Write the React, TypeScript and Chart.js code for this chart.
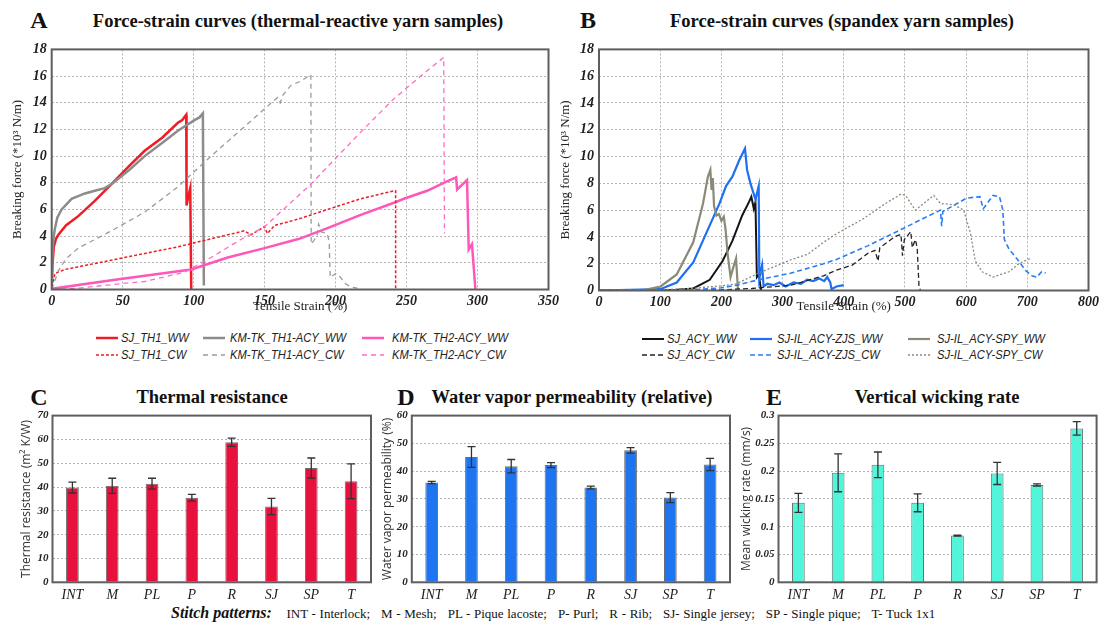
import React, { useEffect, useRef } from "react";
import { Chart, registerables } from "chart.js";
Chart.register(...registerables);

const SERIF = "'Liberation Serif', 'DejaVu Serif', serif";
const SANS = "'Open Sans', 'Liberation Sans', sans-serif";
const LEGENDFONT = "'Liberation Sans', Arial, sans-serif";

// ---------- Panel A: thermal-reactive yarn samples ----------
const seriesNamesA = ["SJ_TH1_WW", "KM-TK_TH1-ACY_WW", "KM-TK_TH2-ACY_WW", "SJ_TH1_CW", "KM-TK_TH1-ACY_CW", "KM-TK_TH2-ACY_CW"];

const sjTh1WwStrain = [0, 0.5, 1.5, 3, 4.7, 10, 18.7, 30, 42.1, 55, 65.5, 78, 88.9, 92, 94.8, 95, 96.5, 97.6, 98.3];
const sjTh1WwForce = [0, 1.8, 3.2, 3.8, 4.1, 4.8, 5.5, 6.6, 7.9, 9.3, 10.4, 11.4, 12.5, 12.7, 13.1, 6.3, 7.1, 7.6, 0];

const kmTh1WwStrain = [0, 0.5, 1.2, 2.3, 4, 7, 14, 23.4, 30.4, 37.4, 42.1, 55, 65.5, 78, 88.9, 100.6, 104.1, 106.5, 107.2];
const kmTh1WwForce = [0, 2.5, 3.8, 4.6, 5.4, 6.0, 6.8, 7.2, 7.4, 7.6, 7.9, 9.0, 10.0, 11.0, 11.9, 12.7, 12.9, 13.2, 0.3];

const kmTh2WwStrain = [0, 42.1, 98.3, 124, 150, 174.4, 194.3, 217.7, 241.1, 248.1, 264.5, 276.2, 284.9, 285.6, 292.6, 293.8, 296.1, 298.5];
const kmTh2WwForce = [0.05, 0.7, 1.5, 2.4, 3.1, 3.8, 4.6, 5.6, 6.5, 6.8, 7.4, 8.0, 8.4, 7.5, 8.2, 3.0, 3.4, 0];

const sjTh1CwStrain = [0, 2.3, 9.3, 42.1, 88.9, 135.7, 140.4, 145, 149.8, 152, 157, 174.4, 194.3, 217.7, 241.1, 242.3, 242.3];
const sjTh1CwForce = [0.2, 1.2, 1.5, 2.2, 3.2, 4.4, 4.1, 4.4, 4.7, 4.2, 4.8, 5.3, 6.0, 6.8, 7.4, 7.4, 0];

const kmTh1CwStrain = [0, 4.7, 10, 18.7, 42.1, 65.5, 88.9, 112.3, 135.7, 159.1, 161, 163, 168.5, 175, 182.6, 182.8, 186.9, 188, 190.4, 194, 195.5, 196.2, 200.1, 203.6, 206, 210.6, 215.3];
const kmTh1CwForce = [0, 1.4, 2.3, 3.1, 4.4, 5.8, 7.7, 10.0, 12.2, 14.4, 14.0, 14.6, 15.3, 15.6, 16.1, 3.4, 4.0, 4.9, 4.3, 4.2, 3.6, 0.9, 1.2, 0.9, 0.5, 0.2, 0.1];

const kmTh2CwStrain = [0, 18.7, 50, 65.5, 93.6, 112.3, 135.7, 150, 159.1, 174.4, 182.6, 194.3, 217.7, 241.1, 264.5, 276.2, 276.7];
const kmTh2CwForce = [0, 0.1, 0.45, 0.6, 1.3, 2.4, 3.9, 4.7, 5.6, 7.1, 7.9, 9.2, 11.8, 14.3, 16.4, 17.4, 4.2];

// ---------- Panel B: spandex yarn samples ----------
const seriesNamesB = ["SJ_ACY_WW", "SJ-IL_ACY-ZJS_WW", "SJ-IL_ACY-SPY_WW", "SJ_ACY_CW", "SJ-IL_ACY-ZJS_CW", "SJ-IL_ACY-SPY_CW"];

const sjAcyWwStrain = [0, 100, 127, 154, 181, 202, 218, 234, 245, 249, 253, 255.7, 258, 261, 263, 265];
const sjAcyWwForce = [0, 0.02, 0.05, 0.15, 0.8, 2.2, 3.7, 5.6, 6.6, 7.0, 6.1, 6.6, 1.0, 1.2, 0.6, 0];

const zjsWwStrain = [0, 100, 127, 154, 175.5, 197, 207.6, 218, 229, 238.6, 242, 247.5, 255.7, 261, 262, 266.5, 269, 275, 285, 295, 305, 318, 330, 340, 350, 360, 368, 373, 378, 380, 388, 400];
const zjsWwForce = [0, 0.1, 0.6, 2.1, 4.3, 6.5, 7.8, 8.5, 9.7, 10.6, 9.0, 8.0, 6.8, 7.8, 0.9, 1.9, 0.3, 0.5, 0.4, 0.6, 0.3, 0.6, 0.5, 0.8, 0.7, 0.9, 0.7, 1.0, 0.6, 0.1, 0.3, 0.4];

const spyWwStrain = [0, 75, 100.6, 127, 154, 170, 178, 182, 184, 186, 188, 192, 196, 200, 204, 207, 210, 215, 220, 224, 227];
const spyWwForce = [0, 0.05, 0.3, 1.2, 3.6, 6.5, 8.5, 9.0, 7.5, 8.4, 6.3, 5.6, 5.7, 5.2, 5.5, 4.5, 2.8, 1.0, 1.8, 2.4, 0.1];

const sjAcyCwStrain = [0, 150, 200, 250, 314, 367, 387, 414, 440, 451, 456, 459, 483, 493.5, 496, 499, 509.5, 512, 517, 520, 523, 525.5];
const sjAcyCwForce = [0, 0.02, 0.05, 0.15, 0.4, 1.1, 1.5, 1.9, 2.8, 3.0, 2.2, 3.2, 4.0, 4.2, 2.6, 3.8, 4.4, 3.2, 3.8, 3.2, 0.3, 0];

const zjsCwStrain = [0, 150, 200, 224.6, 261, 314, 367, 387, 440, 493.5, 547, 558, 560, 562, 601, 622.6, 628, 644, 654.5, 660, 662.5, 670, 686, 697, 707.5, 715.5, 723.5, 730];
const zjsCwForce = [0, 0.05, 0.2, 0.4, 0.8, 1.3, 2.0, 2.3, 3.35, 4.55, 5.76, 6.0, 4.8, 5.9, 6.9, 7.0, 6.1, 7.1, 7.0, 6.0, 3.8, 3.1, 2.2, 1.5, 1.1, 1.0, 1.4, 1.3];

const spyCwStrain = [0, 100, 150, 200, 224.6, 261, 314, 341, 367, 387, 402, 430, 468.5, 493.5, 501, 517, 547, 558, 580, 596, 607, 615, 626, 644, 670, 686, 705];
const spyCwForce = [0, 0.05, 0.15, 0.35, 0.5, 1.3, 2.3, 2.7, 3.6, 4.2, 4.6, 5.3, 6.5, 7.2, 7.1, 6.0, 7.1, 6.5, 6.4, 6.0, 4.3, 2.2, 1.4, 1.0, 1.4, 2.0, 2.4];

// ---------- Panels C, D, E ----------
const stitchLabels = ["INT", "M", "PL", "P", "R", "SJ", "SP", "T"];
const thermalResistance = [39.8, 40.5, 41.4, 35.5, 58.8, 31.8, 48.0, 42.4];
const thermalResistanceErr = [2.3, 3.2, 2.3, 1.4, 1.7, 3.4, 4.2, 7.3];
const vaporPermeability = [35.9, 45.1, 41.8, 42.2, 34.1, 47.5, 30.5, 42.4];
const vaporPermeabilityErr = [0.4, 3.7, 2.4, 0.9, 0.5, 1.0, 1.8, 2.2];
const wickingRate = [0.143, 0.197, 0.2115, 0.143, 0.084, 0.196, 0.175, 0.277];
const wickingRateErr = [0.017, 0.034, 0.023, 0.016, 0.001, 0.02, 0.002, 0.012];

const RED = "#ee1c25";
const GRAY = "#8c8c8c";
const PINK = "#ff56b9";
const BLACK = "#151515";
const BLUE = "#1f6ff2";
const OLIVE = "#8a8a76";

const pts = (xs: number[], ys: number[]) => xs.map((x, i) => ({ x, y: ys[i] }));

const lineDs = (label: string, xs: number[], ys: number[], color: string, width: number, dash: number[]) => ({
  label,
  data: pts(xs, ys),
  showLine: true,
  borderColor: color,
  backgroundColor: color,
  borderWidth: width,
  borderDash: dash,
  pointRadius: 0,
  pointHoverRadius: 0,
  tension: 0,
});

const framePlugin = {
  id: "frameBox",
  afterDatasetsDraw(chart: any) {
    const { ctx, chartArea: a } = chart;
    ctx.save();
    ctx.strokeStyle = "#5e5e5e";
    ctx.lineWidth = 2;
    ctx.setLineDash([]);
    ctx.strokeRect(a.left, a.top, a.right - a.left, a.bottom - a.top);
    ctx.restore();
  },
};

const errorBarPlugin = {
  id: "errorBars",
  afterDatasetsDraw(chart: any) {
    const ds = chart.data.datasets[0];
    const errs: number[] = ds.errors;
    if (!errs) return;
    const meta = chart.getDatasetMeta(0);
    const y = chart.scales.y;
    const ctx = chart.ctx;
    ctx.save();
    ctx.strokeStyle = "#333";
    ctx.lineWidth = 1.3;
    meta.data.forEach((el: any, i: number) => {
      const v = ds.data[i];
      const e = errs[i];
      const yt = y.getPixelForValue(v + e);
      const yb = y.getPixelForValue(v - e);
      const x = el.x;
      ctx.beginPath();
      ctx.moveTo(x, yt);
      ctx.lineTo(x, yb);
      ctx.moveTo(x - 4, yt);
      ctx.lineTo(x + 4, yt);
      ctx.moveTo(x - 4, yb);
      ctx.lineTo(x + 4, yb);
      ctx.stroke();
    });
    ctx.restore();
  },
};

function lineConfig(datasets: any[], xMax: number, xStep: number, yW: number, xH: number, pad: any) {
  return {
    type: "scatter",
    data: { datasets },
    options: {
      animation: false,
      responsive: false,
      layout: { padding: pad, autoPadding: false },
      plugins: { legend: { display: false }, tooltip: { enabled: false } },
      scales: {
        x: {
          type: "linear",
          min: 0,
          max: xMax,
          afterFit: (s: any) => { s.height = xH; },
          ticks: { stepSize: xStep, autoSkip: false, maxRotation: 0, padding: 3, color: "#222", font: { family: SERIF, size: 14, style: "italic", weight: "bold" } },
          grid: { color: "#b4b4b4", drawTicks: false, lineWidth: 1 },
          border: { display: false, dash: [2, 2] },
          title: { display: true, text: "Tensile Strain (%)", color: "#222", font: { family: SERIF, size: 13 }, padding: { top: 0, bottom: 2 } },
        },
        y: {
          min: 0,
          max: 18,
          afterFit: (s: any) => { s.width = yW; },
          ticks: { stepSize: 2, padding: 5, color: "#222", font: { family: SERIF, size: 14, style: "italic", weight: "bold" } },
          grid: { color: "#b4b4b4", drawTicks: false, lineWidth: 1 },
          border: { display: false, dash: [2, 2] },
          title: { display: true, text: "Breaking force (*10³ N/m)", color: "#222", font: { family: SERIF, size: 13 }, padding: { top: 10, bottom: 0 } },
        },
      },
    },
    plugins: [framePlugin],
  };
}

function barConfig(values: number[], errors: number[], color: string, yMax: number, yStep: number, yTitle: string, yW: number, xH: number, titlePad: number, pad: any, fmt: (v: number) => string) {
  return {
    type: "bar",
    data: {
      labels: stitchLabels,
      datasets: [{ data: values, errors, backgroundColor: color, borderColor: "#6e6e6e", borderWidth: 1, barPercentage: 0.32, categoryPercentage: 1 }],
    },
    options: {
      animation: false,
      responsive: false,
      layout: { padding: pad, autoPadding: false },
      plugins: { legend: { display: false }, tooltip: { enabled: false } },
      scales: {
        x: {
          afterFit: (s: any) => { s.height = xH; },
          grid: { display: false, drawTicks: false },
          border: { display: false },
          ticks: { autoSkip: false, maxRotation: 0, padding: 5, color: "#222", font: { family: SERIF, size: 14, style: "italic" } },
        },
        y: {
          min: 0,
          max: yMax,
          afterFit: (s: any) => { s.width = yW; },
          ticks: { stepSize: yStep, padding: 4, color: "#222", font: { family: SERIF, size: 11, style: "italic", weight: "bold" }, callback: (v: any) => fmt(Number(v)) },
          grid: { color: "#b4b4b4", drawTicks: false, lineWidth: 1 },
          border: { display: false, dash: [2, 2] },
          title: { display: true, text: yTitle, color: "#333", font: { family: SANS, size: 12 }, padding: { top: titlePad, bottom: 0 } },
        },
      },
    },
    plugins: [errorBarPlugin, framePlugin],
  };
}

function ChartBox({ left, top, width, height, make }: any) {
  const ref = useRef<HTMLCanvasElement | null>(null);
  useEffect(() => {
    const chart = new Chart(ref.current as HTMLCanvasElement, make());
    return () => chart.destroy();
  }, []);
  return <canvas ref={ref} width={width} height={height} style={{ position: "absolute", left, top, width, height }} />;
}

const makeA = () =>
  lineConfig(
    [
      lineDs(seriesNamesA[5], kmTh2CwStrain, kmTh2CwForce, "#ff6cc3", 1.3, [5, 4]),
      lineDs(seriesNamesA[4], kmTh1CwStrain, kmTh1CwForce, "#9a9a9a", 1.3, [5, 4]),
      lineDs(seriesNamesA[3], sjTh1CwStrain, sjTh1CwForce, RED, 1.5, [3, 2]),
      lineDs(seriesNamesA[2], kmTh2WwStrain, kmTh2WwForce, PINK, 2.5, []),
      lineDs(seriesNamesA[1], kmTh1WwStrain, kmTh1WwForce, GRAY, 2.5, []),
      lineDs(seriesNamesA[0], sjTh1WwStrain, sjTh1WwForce, RED, 2.5, []),
    ],
    350, 50, 51.7, 26.5, { left: 0, top: 6.7, right: 12, bottom: 0 }
  );

const makeB = () =>
  lineConfig(
    [
      lineDs(seriesNamesB[5], spyCwStrain, spyCwForce, OLIVE, 1.3, [2, 2]),
      lineDs(seriesNamesB[4], zjsCwStrain, zjsCwForce, "#2b7df5", 1.6, [5, 3]),
      lineDs(seriesNamesB[3], sjAcyCwStrain, sjAcyCwForce, "#222", 1.3, [5, 3]),
      lineDs(seriesNamesB[2], spyWwStrain, spyWwForce, OLIVE, 2.2, []),
      lineDs(seriesNamesB[1], zjsWwStrain, zjsWwForce, BLUE, 2.2, []),
      lineDs(seriesNamesB[0], sjAcyWwStrain, sjAcyWwForce, BLACK, 2, []),
    ],
    800, 100, 51, 25.5, { left: 0, top: 6, right: 5, bottom: 0 }
  );

const intFmt = (v: number) => String(Math.round(v));
const decFmt = (v: number) => String(Number(v.toFixed(2)));

const makeC = () => barConfig(thermalResistance, thermalResistanceErr, "#e8113d", 70, 10, "Thermal resistance (m² K/W)", 52.5, 19.7, 19.5, { left: 0, top: 8.3, right: 5, bottom: 0 }, intFmt);
const makeD = () => barConfig(vaporPermeability, vaporPermeabilityErr, "#1f74ef", 60, 10, "Water vapor permeability (%)", 33.8, 19.7, 2.1, { left: 0, top: 8.3, right: 4, bottom: 0 }, intFmt);
const makeE = () => barConfig(wickingRate, wickingRateErr, "#50f5da", 0.3, 0.05, "Mean wicking rate (mm/s)", 41.5, 19.7, 2.5, { left: 0, top: 8.3, right: 5.4, bottom: 0 }, decFmt);

const centered = (x: number, y: number, extra: any) => ({
  position: "absolute" as const,
  left: x,
  top: y,
  transform: "translate(-50%, -50%)",
  whiteSpace: "nowrap" as const,
  color: "#111",
  ...extra,
});

const letterStyle = { fontFamily: SERIF, fontWeight: "bold", fontSize: 24 };
const titleStyle = { fontFamily: SERIF, fontWeight: "bold", fontSize: 18.5 };

function LegendItem({ x, tx, y, label, color, width, dash }: any) {
  return (
    <>
      <svg style={{ position: "absolute", left: x, top: y - 4 }} width={22} height={8}>
        <line x1={0} y1={4} x2={22} y2={4} stroke={color} strokeWidth={width} strokeDasharray={dash} />
      </svg>
      <div style={{ position: "absolute", left: tx, top: y - 9, lineHeight: "18px", fontFamily: LEGENDFONT, fontStyle: "italic", fontSize: 13, color: "#222", whiteSpace: "nowrap", transform: "scaleX(0.86)", transformOrigin: "left center" }}>{label}</div>
    </>
  );
}

export default function App() {
  const legendA = [
    { x: 96, tx: 121, y: 338, label: seriesNamesA[0], color: RED, width: 2.5, dash: "" },
    { x: 203, tx: 230, y: 338, label: seriesNamesA[1], color: GRAY, width: 2.5, dash: "" },
    { x: 362, tx: 392, y: 338, label: seriesNamesA[2], color: PINK, width: 2.5, dash: "" },
    { x: 96, tx: 121, y: 355, label: seriesNamesA[3], color: RED, width: 1.5, dash: "3 2" },
    { x: 203, tx: 230, y: 355, label: seriesNamesA[4], color: "#9a9a9a", width: 1.3, dash: "5 4" },
    { x: 362, tx: 392, y: 355, label: seriesNamesA[5], color: "#ff6cc3", width: 1.3, dash: "5 4" },
  ];
  const legendB = [
    { x: 642, tx: 667, y: 339, label: seriesNamesB[0], color: BLACK, width: 2, dash: "" },
    { x: 750, tx: 777, y: 339, label: seriesNamesB[1], color: BLUE, width: 2.2, dash: "" },
    { x: 908, tx: 937, y: 339, label: seriesNamesB[2], color: OLIVE, width: 2.2, dash: "" },
    { x: 642, tx: 667, y: 355, label: seriesNamesB[3], color: "#222", width: 1.3, dash: "5 3" },
    { x: 750, tx: 777, y: 355, label: seriesNamesB[4], color: "#2b7df5", width: 1.6, dash: "5 3" },
    { x: 908, tx: 937, y: 355, label: seriesNamesB[5], color: OLIVE, width: 1.3, dash: "2 2" },
  ];
  return (
    <div style={{ position: "absolute", left: 0, top: 0, width: 1102, height: 623, background: "#fff", overflow: "hidden" }}>
      <div style={centered(39, 20, letterStyle)}>A</div>
      <div style={centered(298, 21, titleStyle)}>Force-strain curves (thermal-reactive yarn samples)</div>
      <div style={centered(588, 20, letterStyle)}>B</div>
      <div style={centered(842, 21, titleStyle)}>Force-strain curves (spandex yarn samples)</div>

      <ChartBox left={0} top={36} width={562} height={280} make={makeA} />
      <ChartBox left={548} top={36} width={554} height={280} make={makeB} />

      {legendA.map((l, i) => <LegendItem key={"a" + i} {...l} />)}
      {legendB.map((l, i) => <LegendItem key={"b" + i} {...l} />)}

      <div style={centered(39, 397, letterStyle)}>C</div>
      <div style={centered(212, 397, titleStyle)}>Thermal resistance</div>
      <div style={centered(406, 397, letterStyle)}>D</div>
      <div style={centered(572, 397, titleStyle)}>Water vapor permeability (relative)</div>
      <div style={centered(774, 397, letterStyle)}>E</div>
      <div style={centered(937, 397, titleStyle)}>Vertical wicking rate</div>

      <ChartBox left={0} top={405} width={376} height={197} make={makeC} />
      <ChartBox left={378} top={405} width={356} height={197} make={makeD} />
      <ChartBox left={737} top={405} width={365} height={197} make={makeE} />

      <div style={{ position: "absolute", left: 171, top: 603, lineHeight: "20px", whiteSpace: "pre", color: "#111" }}>
        <span style={{ fontFamily: SERIF, fontWeight: "bold", fontStyle: "italic", fontSize: 16 }}>Stitch patterns:</span>
        <span style={{ fontFamily: SERIF, fontSize: 13, wordSpacing: "0.4px" }}>{"    INT - Interlock;   M - Mesh;   PL - Pique lacoste;   P- Purl;   R - Rib;   SJ- Single jersey;   SP - Single pique;   T- Tuck 1x1"}</span>
      </div>
    </div>
  );
}
